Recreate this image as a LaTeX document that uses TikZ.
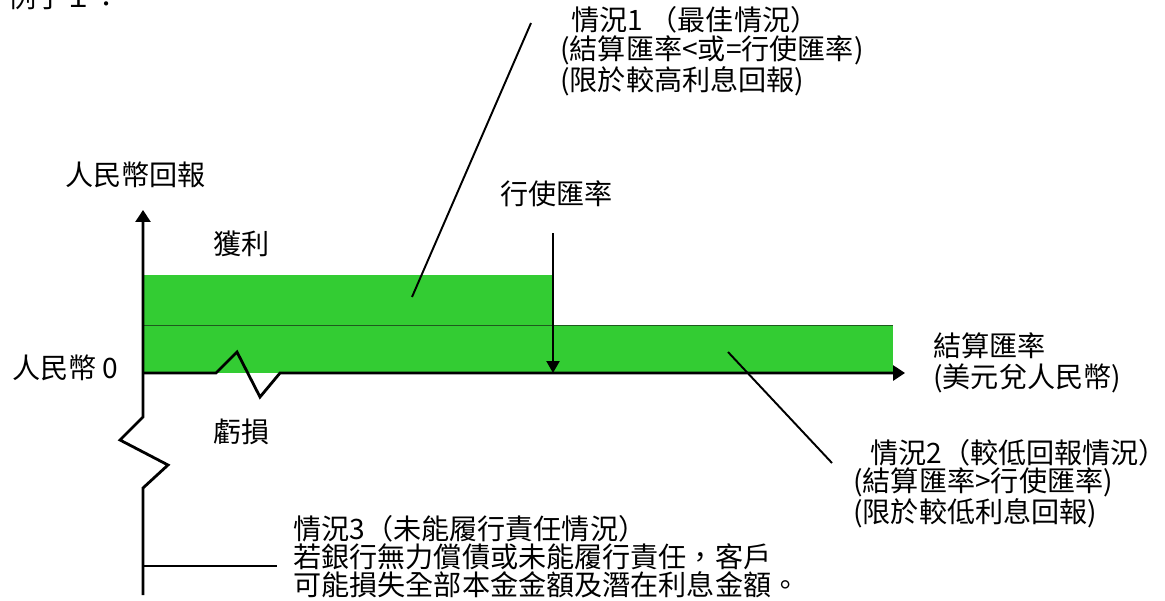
\documentclass[tikz,border=0pt]{standalone}
\usepackage{fontspec}
\newfontfamily\cjk{Noto Sans CJK TC}
\usetikzlibrary{arrows.meta}
\definecolor{gain}{RGB}{51,204,51}
\definecolor{gainline}{RGB}{30,90,30}
\tikzset{
	txt/.style={font=\cjk\fontsize{16}{#1}\selectfont, inner sep=0pt, align=left, anchor=west},
	txt/.default=18,
	axis/.style={line width=1.6pt, -{Triangle[length=0.24cm,width=0.3cm]}},
	lead/.style={line width=1.1pt},
}

\begin{document}
\begin{tikzpicture}[x=0.02cm,y=-0.02cm]
			%%%%% START %%%%%
			\useasboundingbox (0,0) rectangle (1165,601);
			
			\node[txt, anchor=base west] (title) at (8,8) {例子１：};
			
			% return areas
			\fill[gain] (143,275) rectangle (553,373);
			\fill[gain] (553,325) rectangle (893,373);
			\draw[gainline, line width=0.5pt] (143,325) -- (893,325);
			
			% axes with breaks
			\draw[axis] (143,595) -- (143,488) -- (168,465) -- (120,440) -- (143,417) -- (143,210);
			\draw[axis] (143,373) -- (216,373) -- (237,352) -- (260,397) -- (280,373) -- (905,373);
			
			\node[txt] (ylab) at (65,175) {人民幣回報};
			\node[txt] (gainlab) at (213,244) {獲利};
			\node[txt] (zero) at (12,368) {人民幣 0};
			\node[txt] (losslab) at (213,432) {虧損};
			\node[txt] (strike) at (500,194) {行使匯率};
			\node[txt] (settle) at (933,363) {結算匯率\\(美元兌人民幣)};
			
			\node[txt=16.5] (case1) at (560,51) {\hspace*{0.4em}情況1 （最佳情況）\\(結算匯率<或=行使匯率)\\(限於較高利息回報)};
			\node[txt=14.8] (case2) at (853,484) {\hspace*{0.6em}情況2（較低回報情況）\\(結算匯率>行使匯率)\\(限於較低利息回報)};
			\node[txt=15.9] (case3) at (293,557) {情況3（未能履行責任情況）\\若銀行無力償債或未能履行責任，客戶\\可能損失全部本金金額及潛在利息金額。};
			
			% leaders
			\coordinate (s0) at (553,233);
			\coordinate (s1) at (553,373);
			\draw[line width=1.3pt, -{Triangle[length=0.24cm,width=0.26cm]}] (s0) -- (s1);
			
			\coordinate (p1) at (412,297);
			\coordinate (q1) at (531,23);
			\draw[lead] (p1) -- (q1);
			
			\coordinate (p2) at (728,352);
			\coordinate (q2) at (832,463);
			\draw[lead] (p2) -- (q2);
			
			\coordinate (p3) at (143,566);
			\coordinate (q3) at (277,566);
			\draw[lead] (p3) -- (q3);
			
			%%%%% END %%%%%
\end{tikzpicture}
\end{document}
